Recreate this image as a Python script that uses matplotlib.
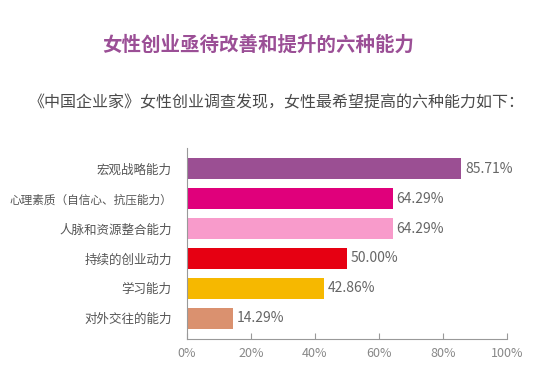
import matplotlib
matplotlib.use("Agg")
import matplotlib.pyplot as plt

plt.rcParams['font.family'] = ['Noto Sans CJK SC', 'DejaVu Sans']

# data (top to bottom)
categories = ["宏观战略能力", "心理素质（自信心、抗压能力）", "人脉和资源整合能力",
              "持续的创业动力", "学习能力", "对外交往的能力"]
values = [85.71, 64.29, 64.29, 50.00, 42.86, 14.29]
bar_colors = ["#9B4F93", "#E0007B", "#F89BCB", "#E60012", "#F6B800", "#DA916F"]
x_ticks = [0, 20, 40, 60, 80, 100]

fig = plt.figure(figsize=(5.58, 3.85), dpi=100)
W, H = 558, 385
# axes box in pixel coords: left 187, right 507, top 148, bottom 339
ax = fig.add_axes([187 / W, 1 - 339 / H, (507 - 187) / W, (339 - 148) / H])

pos = list(range(len(categories)))
ax.barh(pos, values, height=0.7, color=bar_colors)
ax.set_ylim(len(categories) - 0.3, -0.7)
ax.set_xlim(0, 100)

for p, v in zip(pos, values):
    ax.text(v + 1.2, p, "%.2f%%" % v, va="center", ha="left",
            fontsize=10, color="#666666")

ax.set_yticks(pos)
ax.set_yticklabels(categories, fontsize=9, color="#555555")
ax.tick_params(axis="y", length=0, pad=11)
# long label is squeezed a bit so it stays inside the picture
ax.get_yticklabels()[1].set_fontsize(8.4)

ax.set_xticks(x_ticks)
ax.set_xticklabels(["%d%%" % t for t in x_ticks], fontsize=9, color="#888888")
ax.tick_params(axis="x", direction="in", length=4, color="#999999", pad=6)

for s in ["top", "right"]:
    ax.spines[s].set_visible(False)
ax.spines["left"].set_color("#999999")
ax.spines["bottom"].set_color("#999999")

fig.text(258 / W, 1 - 45 / H, "女性创业亟待改善和提升的六种能力", ha="center", va="center",
         fontsize=14, fontweight="bold", color="#9B4F96")
fig.text(277 / W, 1 - 103 / H, "《中国企业家》女性创业调查发现，女性最希望提高的六种能力如下：",
         ha="center", va="center", fontsize=11.5, color="#4A4A4A")

fig.savefig("out.png", dpi=100)
